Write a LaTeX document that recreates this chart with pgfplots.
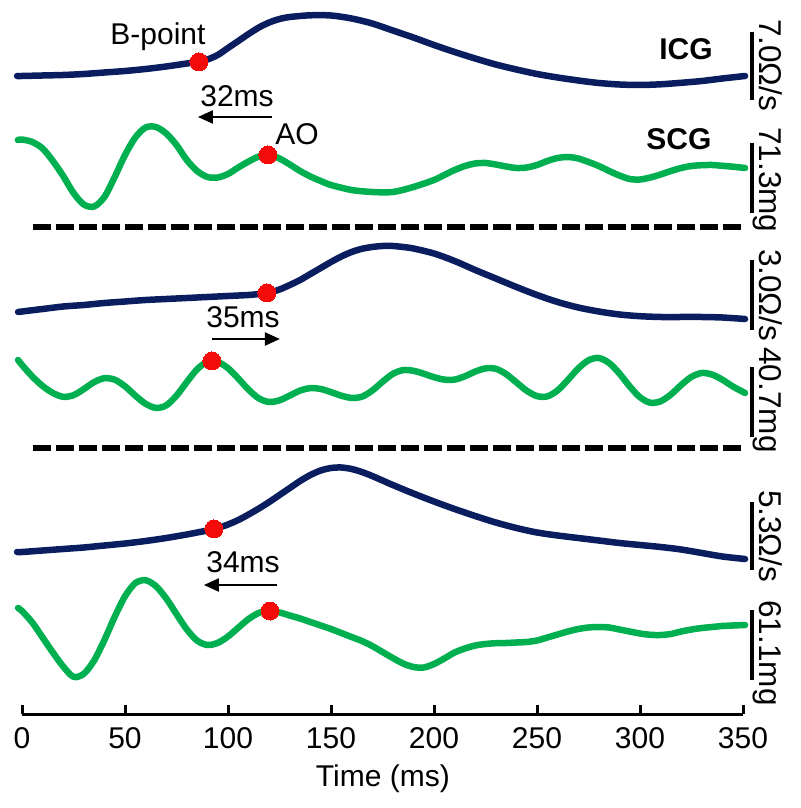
\documentclass[border=0pt]{standalone}
\usepackage{fontspec}
\setmainfont{Liberation Sans}
\usepackage{pgfplots}
\pgfplotsset{compat=1.18}
\usetikzlibrary{arrows.meta}
\definecolor{icg}{RGB}{10,30,95}
\definecolor{scg}{RGB}{0,176,80}
\definecolor{dot}{RGB}{245,10,10}
\begin{document}
\begin{tikzpicture}[font=\fontsize{30}{36}\selectfont]
\begin{axis}[
  x=2.06pt, y=1pt,
  xmin=0, xmax=350, ymin=-714, ymax=0,
  axis x line*=bottom, axis y line=none,
  ytick=\empty,
  xtick={0,50,...,350},
  tick align=inside,
  major tick length=9pt,
  every tick/.style={black, line width=3pt},
  axis line style={black, line width=3pt},
  /pgf/number format/assume math mode=true,
  xticklabel style={anchor=base, yshift=-34pt, font=\fontsize{30}{36}\selectfont},
  xlabel={Time (ms)},
  xlabel style={at={(axis cs:175.2,-714)}, anchor=base, yshift=-72pt, font=\fontsize{30}{36}\selectfont},
  clip=false,
  every axis plot/.append style={line join=round},
]
% bounding box
\path (axis cs:-10.68,0) rectangle (axis cs:377.67,-808);

% ---- ICG 1
\addplot[icg, line width=6.5pt, smooth, line cap=round] coordinates {
(-2.4,-76)(0,-76)(10,-75.5)(20,-75)(30,-74)(40,-72.5)(50,-71)(60,-69)(70,-66.5)(80,-63.5)(85,-62)(90,-59.5)(95,-55)(100,-48)(105,-41)(110,-34)(115,-27.5)(120,-22.5)(125,-19)(130,-17)(140,-15.3)(150,-15.5)(160,-18.5)(170,-23.5)(180,-30.5)(190,-37.5)(200,-45)(210,-52)(220,-58.5)(230,-64.5)(240,-69.5)(250,-74)(260,-77.5)(270,-80.5)(280,-83)(290,-84.5)(300,-85)(310,-84.3)(320,-82.8)(330,-81)(340,-78.5)(351,-76)};
% ---- SCG 1
\addplot[scg, line width=6.5pt, smooth, line cap=round] coordinates {
(-2,-140)(0,-139.5)(5,-142)(10,-148.5)(15,-161)(20,-176)(25,-193)(30,-204.5)(35,-206.5)(40,-197)(45,-177)(50,-155)(55,-137.5)(60,-127.5)(65,-127)(70,-133.5)(75,-145)(80,-160)(85,-171)(90,-177)(95,-177.5)(100,-174)(105,-167.5)(110,-161.5)(115,-156.5)(120,-155)(125,-158.5)(130,-164.5)(135,-171)(140,-176.5)(145,-181)(150,-185)(160,-190)(170,-192)(180,-192)(190,-187)(200,-180)(205,-175)(210,-170)(215,-166)(220,-163.5)(225,-163)(230,-164.5)(235,-166.5)(240,-168)(245,-167.5)(250,-165)(255,-161)(260,-158)(265,-157)(270,-158.5)(275,-162)(280,-166)(285,-171)(290,-175.5)(295,-179)(300,-179.5)(305,-177.5)(310,-174.5)(315,-171)(320,-168)(325,-166)(330,-165.2)(335,-165)(340,-165.8)(345,-166.7)(351,-168)};
% ---- ICG 2
\addplot[icg, line width=6.5pt, smooth, line cap=round] coordinates {
(-1.9,-312)(0,-311.5)(10,-309)(20,-306.5)(30,-305)(40,-303)(50,-301.5)(60,-300)(70,-299)(80,-298)(90,-297)(100,-296)(110,-295)(115,-294)(120,-292.5)(125,-289.5)(130,-285)(135,-280)(140,-274)(145,-268)(150,-262)(155,-256.5)(160,-252)(165,-248.8)(170,-247)(175,-246)(180,-246)(185,-247)(190,-248.5)(200,-253.5)(210,-261)(220,-270)(230,-278.5)(240,-287)(250,-295)(260,-302)(270,-307.5)(280,-311.5)(290,-314.5)(300,-316.2)(310,-317)(320,-317)(330,-317)(340,-317.5)(351,-319)};
% ---- SCG 2
\addplot[scg, line width=6.5pt, smooth, line cap=round] coordinates {
(-1.9,-360)(0,-365)(5,-376.5)(10,-386)(15,-393)(20,-396.8)(25,-395.2)(30,-389.1)(35,-382.1)(40,-378.2)(45,-379.7)(50,-386.3)(55,-395.6)(60,-403.8)(65,-407.9)(70,-405.4)(75,-395.6)(80,-382.1)(85,-369.3)(90,-361.8)(95,-362)(100,-368.2)(105,-378.5)(110,-389.7)(115,-398.4)(120,-402)(125,-400.3)(130,-395.6)(135,-390.6)(140,-388.1)(145,-389)(150,-392.1)(155,-395.7)(160,-397.9)(165,-396.7)(170,-390.6)(175,-381.8)(180,-373.9)(185,-370.1)(190,-370.8)(195,-373.7)(200,-377.2)(205,-379.6)(210,-379.6)(215,-376.3)(220,-371.6)(225,-368.4)(230,-368.8)(235,-374.1)(240,-382.4)(245,-390.7)(250,-396.1)(255,-396.4)(260,-390.4)(265,-379.9)(270,-368.5)(275,-360.3)(280,-358)(285,-363)(290,-373.5)(295,-386.4)(300,-397.3)(305,-402.7)(310,-401.3)(315,-394.5)(320,-385)(325,-376.8)(330,-373)(335,-374.6)(340,-379.7)(345,-386.4)(351,-393)};
% ---- ICG 3
\addplot[icg, line width=6.5pt, smooth, line cap=round] coordinates {
(-2.4,-552)(0,-552)(10,-550.5)(20,-549)(30,-547.5)(40,-545.5)(50,-543.5)(60,-541)(70,-538)(80,-534.5)(85,-532.5)(90,-530.5)(95,-528)(100,-524.5)(105,-520)(110,-514.5)(115,-508.5)(120,-502)(125,-495)(130,-488)(135,-481)(140,-475)(145,-470.5)(150,-468)(155,-467.5)(160,-469)(165,-472)(170,-476)(175,-480.5)(180,-485)(190,-493.5)(200,-501.5)(210,-509)(220,-516)(230,-522.5)(240,-528)(250,-532.5)(260,-535.5)(270,-538)(280,-540.5)(290,-543)(300,-545)(310,-547)(320,-549.5)(330,-553)(340,-556.5)(351,-559)};
% ---- SCG 3
\addplot[scg, line width=6.5pt, smooth, line cap=round] coordinates {
(-1.9,-608)(0,-611)(5,-622.5)(10,-637.5)(15,-652.5)(20,-666.5)(25,-676.8)(30,-673.8)(35,-660.5)(40,-640)(45,-616.8)(50,-596.3)(55,-583.1)(60,-580.2)(65,-586.1)(70,-598.4)(75,-614.1)(80,-629.4)(85,-640.6)(90,-645)(95,-642.9)(100,-636.5)(105,-627.7)(110,-619)(115,-612.9)(120,-611)(125,-612.5)(130,-615.5)(135,-618.5)(140,-622)(145,-625.5)(150,-629)(155,-633)(160,-637)(165,-641)(170,-646)(175,-652)(180,-658)(185,-663.5)(190,-667)(195,-667.5)(200,-664)(205,-658.5)(210,-652.5)(215,-648.5)(220,-645.5)(225,-644)(230,-643.2)(235,-643)(240,-642.5)(245,-642)(250,-640.5)(255,-637.5)(260,-634.5)(265,-631.5)(270,-629)(275,-627.5)(280,-627)(285,-627.5)(290,-629.5)(295,-631.5)(300,-633.5)(305,-634.8)(310,-635)(315,-634)(320,-631.5)(325,-629.5)(330,-628)(335,-627)(340,-626)(345,-625.5)(351,-625)};

% ---- dashed separators
\addplot[black, line width=6.5pt, dash pattern=on 18pt off 5pt] coordinates {(5.3,-227)(351,-227)};
\addplot[black, line width=6.5pt, dash pattern=on 18pt off 5pt] coordinates {(5.3,-448)(351,-448)};

% ---- red points (B-point and AO)
\addplot[dot, only marks, mark=*, mark size=9pt, mark options={draw=dot, fill=dot, line width=0pt}] coordinates {
(85.9,-62)(119.4,-155)(118.9,-293)(92.2,-361)(93.2,-529)(120.4,-611)};

% ---- scale bars
\addplot[black, line width=4pt] coordinates {(354.4,-32)(354.4,-100)};
\addplot[black, line width=4pt] coordinates {(354.4,-143)(354.4,-213)};
\addplot[black, line width=4pt] coordinates {(354.4,-260)(354.4,-330)};
\addplot[black, line width=4pt] coordinates {(354.4,-367)(354.4,-437)};
\addplot[black, line width=4pt] coordinates {(354.4,-502)(354.4,-570)};
\addplot[black, line width=4pt] coordinates {(354.4,-610)(354.4,-680)};

\node[rotate=-90, anchor=base, font=\fontsize{31.5}{36}\selectfont] at (axis cs:357.8,-65) {7.0Ω/s};
\node[rotate=-90, anchor=base, font=\fontsize{31.5}{36}\selectfont] at (axis cs:357.8,-180) {71.3mg};
\node[rotate=-90, anchor=base, font=\fontsize{31.5}{36}\selectfont] at (axis cs:357.8,-295) {3.0Ω/s};
\node[rotate=-90, anchor=base, font=\fontsize{31.5}{36}\selectfont] at (axis cs:357.8,-400) {40.7mg};
\node[rotate=-90, anchor=base, font=\fontsize{31.5}{36}\selectfont] at (axis cs:357.8,-536) {5.3Ω/s};
\node[rotate=-90, anchor=base, font=\fontsize{31.5}{36}\selectfont] at (axis cs:357.8,-653) {61.1mg};

% ---- text labels
\node[anchor=base] at (axis cs:66.0,-45) {B-point};
\node[anchor=base] at (axis cs:104.4,-107) {32ms};
\node[anchor=base] at (axis cs:133.5,-145) {AO};
\node[anchor=base, font=\fontsize{30}{36}\selectfont\bfseries] at (axis cs:322.3,-60) {ICG};
\node[anchor=base, font=\fontsize{30}{36}\selectfont\bfseries] at (axis cs:318.9,-150) {SCG};
\node[anchor=base] at (axis cs:107.3,-328) {35ms};
\node[anchor=base] at (axis cs:107.3,-573) {34ms};

% ---- arrows
\draw[black, line width=2.2pt, -{Triangle[length=15pt, width=13pt]}] (axis cs:121.4,-117) -- (axis cs:85.4,-117);
\draw[black, line width=2.2pt, -{Triangle[length=15pt, width=13pt]}] (axis cs:92.2,-339) -- (axis cs:125.2,-339);
\draw[black, line width=2.2pt, -{Triangle[length=15pt, width=13pt]}] (axis cs:123.8,-585) -- (axis cs:88.3,-585);
\end{axis}
\end{tikzpicture}
\end{document}
